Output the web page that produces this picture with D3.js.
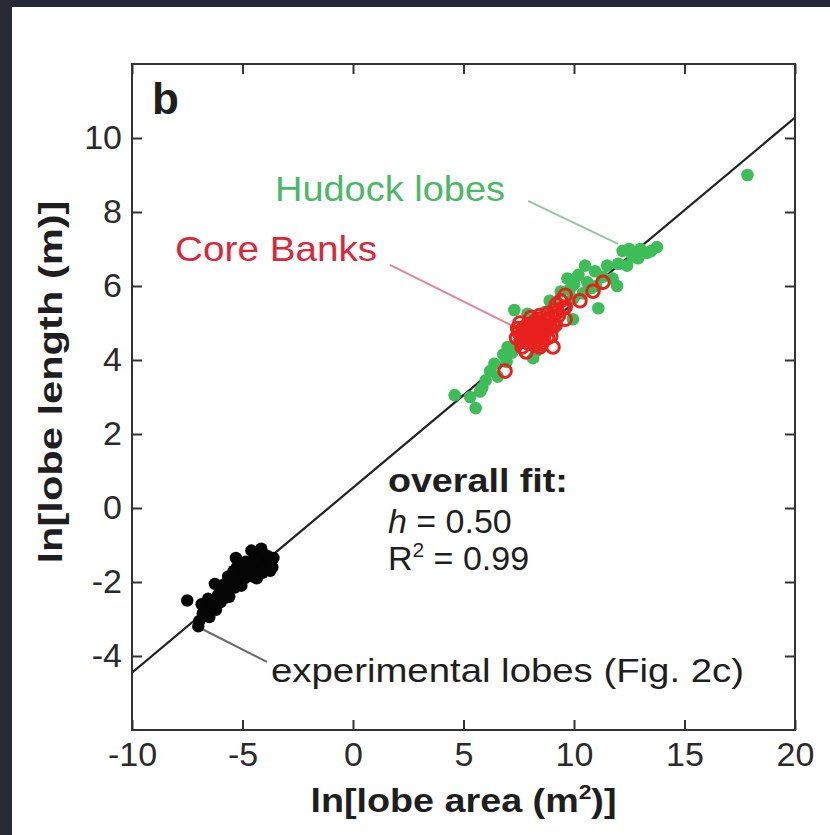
<!DOCTYPE html>
<meta charset="utf-8">
<title>lobes</title>
<style>
  body { margin: 0; background: #272a34; }
  svg { display: block; }
  text { font-family: "Liberation Sans", Arial, sans-serif; fill: #1e1e1e; }
  .axis text { font-size: 34px; fill: #2a2a2a; }
  .axis line { stroke: #333; stroke-width: 2; }
  .axis path { display: none; }
</style>
<body>
<div id="chart"></div>
<script src="https://d3js.org/d3.v7.min.js"></script>
<script>

// data: ln(area), ln(length)

var xTicks = [-10, -5, 0, 5, 10, 15, 20];
var yTicks = [-4, -2, 0, 2, 4, 6, 8, 10];

var fitLine = [[-10, -4.45], [20, 10.55]];

var experimental = [
  [-7.5, -2.5], [-7.0, -3.2], [-6.95, -3.05], [-6.8, -2.85], [-6.65, -2.7],
  [-6.5, -2.95], [-6.4, -2.65], [-6.3, -2.5], [-6.2, -2.75], [-6.1, -2.35],
  [-6.0, -2.55], [-5.95, -2.2], [-5.85, -2.45], [-5.8, -2.05], [-5.7, -2.3],
  [-5.65, -1.85], [-5.55, -2.1], [-5.45, -1.95], [-5.35, -2.15], [-5.25, -1.6],
  [-5.2, -1.8], [-5.1, -2.0], [-5.0, -1.7], [-4.9, -1.9], [-4.85, -1.45],
  [-4.75, -1.75], [-4.65, -1.55], [-4.55, -1.85], [-4.45, -1.35], [-4.4, -1.6],
  [-4.3, -1.2], [-4.2, -1.45], [-4.1, -1.75], [-4.05, -1.25], [-3.95, -1.55],
  [-3.85, -1.3], [-3.75, -1.7], [-3.7, -1.45], [-3.6, -1.35], [-4.6, -1.15],
  [-5.3, -1.35], [-6.25, -2.05], [-6.55, -2.45], [-5.6, -2.4], [-5.05, -2.1],
  [-4.35, -1.9], [-3.65, -1.6], [-4.15, -1.1], [-6.85, -2.6], [-5.4, -1.7]
];

var hudock = [
  [4.6, 3.05], [5.55, 2.7], [5.75, 3.15], [6.2, 3.7], [6.55, 3.55],
  [6.95, 3.95], [7.2, 4.2], [7.3, 5.35], [7.9, 5.25], [7.55, 4.45],
  [8.3, 4.25], [8.9, 5.6], [9.7, 6.2], [9.8, 5.9], [9.95, 5.65],
  [10.5, 6.55], [10.6, 6.1], [10.95, 6.4], [11.1, 5.4], [11.5, 6.55],
  [11.75, 6.2], [11.95, 6.0], [12.2, 6.95], [12.4, 6.55], [12.65, 6.8],
  [13.0, 7.0], [13.3, 6.9], [13.75, 7.05], [9.95, 5.1], [8.45, 4.85],
  [8.15, 4.05], [6.8, 4.15], [6.0, 3.45], [5.85, 3.25], [5.3, 3.0],
  [9.4, 5.85], [10.2, 6.3], [8.7, 5.3], [9.2, 5.5], [10.8, 5.95],
  [11.3, 6.25], [12.0, 6.6], [12.9, 6.75], [7.6, 4.75], [8.0, 4.5],
  [9.1, 4.85], [10.4, 5.8], [6.4, 3.9], [7.0, 4.35], [12.5, 7.0],
  [13.5, 6.95], [11.0, 6.0], [10.0, 6.05], [17.85, 9.0]
];

var coreBanks = [
  [7.4, 4.6], [7.5, 4.75], [7.6, 4.5], [7.7, 4.85], [7.8, 4.65],
  [7.9, 4.95], [7.95, 4.45], [8.0, 4.8], [8.1, 4.6], [8.15, 5.0],
  [8.2, 4.7], [8.3, 4.9], [8.35, 4.5], [8.4, 5.1], [8.5, 4.75],
  [8.55, 4.95], [8.6, 4.55], [8.7, 5.05], [8.75, 4.8], [8.8, 5.25],
  [8.9, 4.9], [8.95, 4.65], [9.0, 5.15], [9.1, 5.35], [9.15, 4.95],
  [9.2, 5.5], [9.3, 5.2], [9.4, 5.6], [9.5, 5.4], [9.6, 5.75],
  [8.45, 4.35], [8.05, 5.15], [7.65, 4.35], [7.55, 5.0], [8.25, 4.4],
  [7.85, 4.6], [8.65, 4.7], [8.0, 4.95], [8.45, 5.2], [8.85, 5.05],
  [7.75, 4.55], [8.25, 5.05], [7.45, 4.85], [7.7, 4.7], [8.1, 4.85],
  [8.35, 4.65], [8.6, 4.9], [8.8, 4.6], [9.05, 5.0], [9.25, 5.3],
  [7.95, 4.7], [8.55, 4.45], [9.05, 4.35], [7.83, 4.22], [6.88, 3.7],
  [9.6, 5.1], [9.6, 5.43], [10.27, 5.6], [10.86, 5.86], [11.31, 6.1]
];

// leader lines and text positions, in data units
var leaders = [
  {from: [7.92, 8.3], to: [11.99, 7.14], color: "#94c79e"},
  {from: [1.67, 6.57], to: [7.33, 4.89], color: "#dc8a94"},
  {from: [-3.89, -4.16], to: [-6.83, -3.27], color: "#6a6a6a"}
];

var width = 830, height = 835;
var margin = {top: 64, right: 35, bottom: 105, left: 132};
var w = width - margin.left - margin.right,
    h = height - margin.top - margin.bottom;

var svg = d3.select("#chart").append("svg")
    .attr("width", width)
    .attr("height", height);

svg.append("rect")
  .attr("width", width).attr("height", height)
  .attr("fill", "#272a34");

svg.append("rect")
  .attr("x", 12).attr("y", 7)
  .attr("width", width - 12).attr("height", height - 7)
  .attr("fill", "#ffffff");

var g = svg.append("g")
  .attr("transform", "translate(" + margin.left + "," + margin.top + ")");

var x = d3.scaleLinear().domain([-10, 20]).range([0, w]);
var y = d3.scaleLinear().domain([-6, 12]).range([h, 0]);

var plain = function(d) { return String(d); };

// axes, ticks pointing inward on all four sides

g.append("g")
  .attr("class", "axis")
  .attr("transform", "translate(0," + h + ")")
  .call(d3.axisBottom(x).tickValues(xTicks).tickSize(-10).tickPadding(12).tickFormat(plain));

g.append("g")
  .attr("class", "axis")
  .call(d3.axisTop(x).tickValues(xTicks).tickSize(-10).tickFormat(""));

g.append("g")
  .attr("class", "axis")
  .call(d3.axisLeft(y).tickValues(yTicks).tickSize(-10).tickPadding(10).tickFormat(plain));

g.append("g")
  .attr("class", "axis")
  .attr("transform", "translate(" + w + ",0)")
  .call(d3.axisRight(y).tickValues(yTicks).tickSize(-10).tickFormat(""));

g.append("clipPath").attr("id", "plotclip")
  .append("rect").attr("width", w).attr("height", h);

var plot = g.append("g").attr("clip-path", "url(#plotclip)");

// leader lines

plot.selectAll("line.leader")
  .data(leaders)
  .enter().append("line")
  .attr("class", "leader")
  .attr("x1", function(d) { return x(d.from[0]); })
  .attr("y1", function(d) { return y(d.from[1]); })
  .attr("x2", function(d) { return x(d.to[0]); })
  .attr("y2", function(d) { return y(d.to[1]); })
  .attr("stroke", function(d) { return d.color; })
  .attr("stroke-width", 2);

// fit line

plot.append("path")
  .datum(fitLine)
  .attr("d", d3.line().x(function(d) { return x(d[0]); }).y(function(d) { return y(d[1]); }))
  .attr("stroke", "#222")
  .attr("stroke-width", 2.2)
  .attr("fill", "none");

// points

plot.selectAll("circle.exp")
  .data(experimental)
  .enter().append("circle")
  .attr("class", "exp")
  .attr("cx", function(d) { return x(d[0]); })
  .attr("cy", function(d) { return y(d[1]); })
  .attr("r", 6.2)
  .attr("fill", "#050505");

plot.selectAll("circle.hud")
  .data(hudock)
  .enter().append("circle")
  .attr("class", "hud")
  .attr("cx", function(d) { return x(d[0]); })
  .attr("cy", function(d) { return y(d[1]); })
  .attr("r", 6.3)
  .attr("fill", "#3dbd58");

plot.selectAll("circle.core")
  .data(coreBanks)
  .enter().append("circle")
  .attr("class", "core")
  .attr("cx", function(d) { return x(d[0]); })
  .attr("cy", function(d) { return y(d[1]); })
  .attr("r", 6.3)
  .attr("fill", "none")
  .attr("stroke", "#e8211e")
  .attr("stroke-width", 3);

// frame

g.append("rect")
  .attr("width", w).attr("height", h)
  .attr("fill", "none")
  .attr("stroke", "#333")
  .attr("stroke-width", 2);

// annotations

g.append("text")
  .attr("x", x(-9.1)).attr("y", y(10.65))
  .attr("font-size", 44).attr("font-weight", "bold")
  .text("b");

g.append("text")
  .attr("x", x(-3.53)).attr("y", y(8.3))
  .attr("font-size", 35).attr("textLength", 230).attr("lengthAdjust", "spacingAndGlyphs")
  .style("fill", "#4bb867")
  .text("Hudock lobes");

g.append("text")
  .attr("x", x(-8.05)).attr("y", y(6.68))
  .attr("font-size", 35).attr("textLength", 202).attr("lengthAdjust", "spacingAndGlyphs")
  .style("fill", "#d9283a")
  .text("Core Banks");

g.append("text")
  .attr("x", x(1.58)).attr("y", y(0.43))
  .attr("font-size", 34).attr("font-weight", "bold")
  .attr("textLength", 180).attr("lengthAdjust", "spacingAndGlyphs")
  .text("overall fit:");

var hText = g.append("text")
  .attr("x", x(1.58)).attr("y", y(-0.68))
  .attr("font-size", 34);
hText.append("tspan").attr("font-style", "italic").text("h");
hText.append("tspan").text(" = 0.50");

var rText = g.append("text")
  .attr("x", x(1.58)).attr("y", y(-1.68))
  .attr("font-size", 34);
rText.append("tspan").text("R");
rText.append("tspan").attr("font-size", 21).attr("dy", -13).text("2");
rText.append("tspan").attr("dy", 13).text(" = 0.99");

g.append("text")
  .attr("x", x(-3.71)).attr("y", y(-4.7))
  .attr("font-size", 34).attr("textLength", 473).attr("lengthAdjust", "spacingAndGlyphs")
  .text("experimental lobes (Fig. 2c)");

// axis titles

var xl = svg.append("text")
  .attr("x", margin.left + w / 2).attr("y", 812)
  .attr("text-anchor", "middle")
  .attr("font-size", 33).attr("font-weight", "bold")
  .attr("textLength", 306).attr("lengthAdjust", "spacingAndGlyphs")
  .style("font-family", "'Liberation Sans Narrow', 'Liberation Sans', sans-serif");
xl.append("tspan").text("ln[lobe area (m");
xl.append("tspan").attr("font-size", 20).attr("dy", -13).text("2");
xl.append("tspan").attr("dy", 13).text(")]");

svg.append("text")
  .attr("transform", "translate(62,382) rotate(-90)")
  .attr("text-anchor", "middle")
  .attr("font-size", 33).attr("font-weight", "bold")
  .attr("textLength", 363).attr("lengthAdjust", "spacingAndGlyphs")
  .style("font-family", "'Liberation Sans Narrow', 'Liberation Sans', sans-serif")
  .text("ln[lobe length (m)]");

</script>
</body>
